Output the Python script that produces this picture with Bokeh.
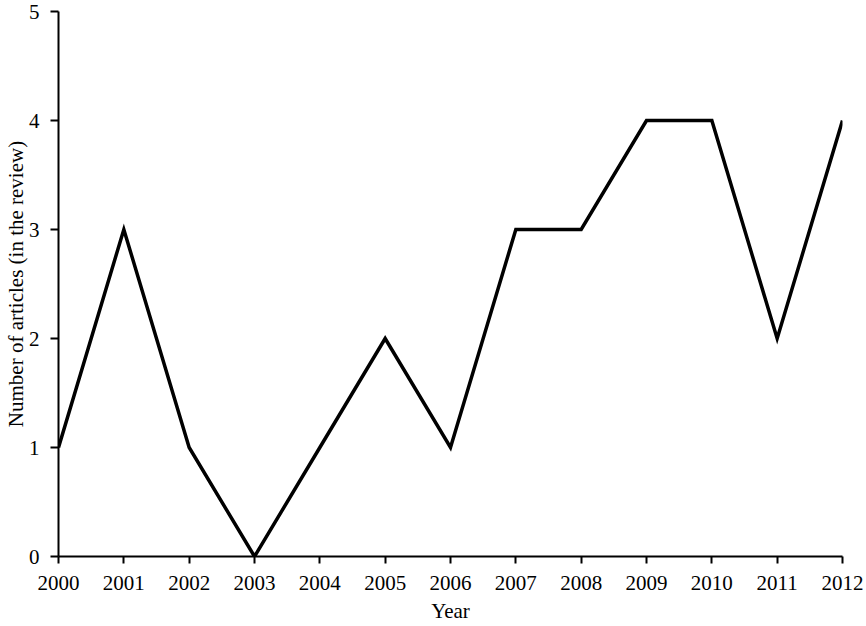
from bokeh.plotting import figure
from bokeh.models import Range1d, FixedTicker
from bokeh.embed import file_html
from bokeh.resources import INLINE

years = [2000, 2001, 2002, 2003, 2004, 2005, 2006, 2007, 2008, 2009, 2010, 2011, 2012]
articles = [1, 3, 1, 0, 1, 2, 1, 3, 3, 4, 4, 2, 4]
y_ticks = [0, 1, 2, 3, 4, 5]

FONT = "Liberation Serif"

p = figure(width=864, height=625, output_backend="svg", toolbar_location=None,
           x_range=Range1d(2000, 2012), y_range=Range1d(0, 5),
           min_border_left=58, min_border_right=22, min_border_top=11, min_border_bottom=69)
p.outline_line_color = None
p.grid.visible = False
p.background_fill_color = "white"
p.border_fill_color = "white"

p.line(years, articles, line_color="black", line_width=3.5, line_join="miter")

for ax in (p.xaxis[0], p.yaxis[0]):
    ax.axis_line_color = "black"
    ax.axis_line_width = 2
    ax.major_tick_line_color = "black"
    ax.major_tick_line_width = 2
    ax.major_tick_in = 0
    ax.minor_tick_line_color = None
    ax.major_label_text_font = FONT
    ax.major_label_text_font_size = "21px"
    ax.major_label_text_color = "black"
    ax.axis_label_text_font = FONT
    ax.axis_label_text_font_size = "21px"
    ax.axis_label_text_font_style = "normal"
    ax.axis_label_text_color = "black"

p.xaxis.ticker = FixedTicker(ticks=years)
p.yaxis.ticker = FixedTicker(ticks=y_ticks)
p.xaxis.major_tick_out = 7
p.yaxis.major_tick_out = 8
p.xaxis.major_label_standoff = 12
p.yaxis.major_label_standoff = 11
p.xaxis.axis_label = "Year"
p.yaxis.axis_label = "Number of articles (in the review)"
p.xaxis.axis_label_standoff = 6
p.yaxis.axis_label_standoff = -2

open("out.html", "w").write(file_html(p, INLINE))
